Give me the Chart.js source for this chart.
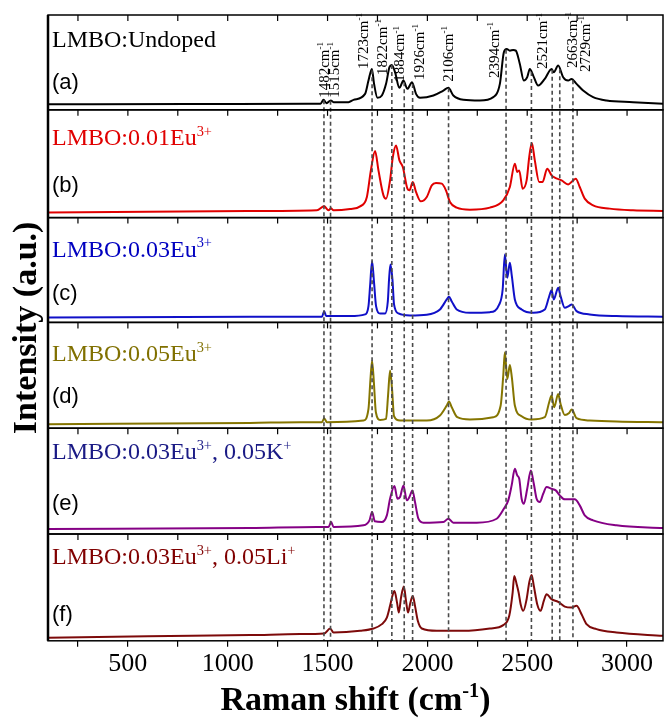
<!DOCTYPE html>
<html>
<head>
<meta charset="utf-8">
<script src="https://cdn.jsdelivr.net/npm/chart.js@4.4.0/dist/chart.umd.min.js"></script>
<style>
  html, body { margin: 0; padding: 0; background: #fff; }
</style>
</head>
<body>
<canvas id="raman" width="665" height="721"></canvas>
<script>
// Raman spectra, one stacked panel per sample (shift in cm-1, intensity in a.u.)
const shiftA = [100, 800, 1400, 1465, 1480, 1495, 1516, 1530, 1605, 1630, 1688, 1705, 1722, 1733, 1750, 1772, 1793, 1810, 1822, 1838, 1860, 1880, 1900, 1923, 1943, 1963, 2030, 2080, 2105, 2130, 2180, 2263, 2330, 2363, 2383, 2397, 2413, 2430, 2443, 2463, 2483, 2500, 2513, 2530, 2555, 2588, 2622, 2633, 2655, 2680, 2705, 2722, 2747, 2780, 2830, 2897, 3030, 3180];
const intA   = [5.5, 5.8, 6, 6.2, 10, 6.7, 9.3, 7.7, 7.7, 10, 16, 29.3, 41, 26, 12, 14.3, 26, 42.7, 45, 37.7, 22, 29.3, 21, 27.7, 16, 12, 14.3, 19.3, 22, 14.3, 10, 9.3, 12.7, 26, 57.7, 61, 59.3, 60, 59.3, 46, 29.3, 32.7, 41, 34.3, 24.3, 31, 41, 37.7, 44.3, 32.7, 29.3, 31, 26, 19.3, 12.7, 9.3, 7.7, 6];

const shiftB = [100, 1100, 1447, 1483, 1505, 1517, 1530, 1613, 1663, 1697, 1717, 1738, 1755, 1780, 1793, 1813, 1827, 1843, 1860, 1877, 1900, 1910, 1927, 1943, 1967, 1997, 2022, 2043, 2072, 2093, 2113, 2147, 2213, 2313, 2380, 2413, 2438, 2450, 2460, 2477, 2497, 2510, 2523, 2538, 2560, 2577, 2600, 2622, 2638, 2672, 2705, 2727, 2743, 2763, 2788, 2830, 2913, 3030, 3180];
const intB   = [5, 6.5, 7.3, 11.3, 7.3, 9.3, 7.3, 8.7, 11.3, 20.7, 47.3, 66.7, 47.3, 22.3, 19, 37.3, 60.7, 72.3, 57.3, 50.7, 29, 27.3, 35.7, 25.7, 16.3, 20.7, 32.3, 34.7, 34, 27.3, 15.7, 10, 8, 10, 17.3, 30.7, 54, 45.7, 47.3, 29, 37.3, 60.7, 74.7, 57.3, 35.7, 35.7, 49, 42.3, 40, 37.3, 33.3, 36.7, 39, 30.7, 19, 12.3, 9, 7.3, 6.7];

const shiftC = [100, 1113, 1388, 1472, 1483, 1493, 1613, 1688, 1705, 1713, 1723, 1733, 1743, 1763, 1788, 1802, 1808, 1815, 1825, 1833, 1855, 1913, 1997, 2063, 2097, 2108, 2122, 2147, 2213, 2313, 2360, 2377, 2388, 2400, 2413, 2423, 2438, 2472, 2530, 2588, 2608, 2622, 2633, 2655, 2667, 2688, 2708, 2723, 2747, 2813, 2947, 3180];
const intC   = [5, 5.7, 5.7, 5.7, 11.3, 6.3, 6.3, 8, 16.3, 36.3, 61.3, 39.7, 16.3, 9, 9, 21.3, 43, 58, 43, 18, 9, 7, 7.7, 13, 23, 25.7, 21, 13, 9.7, 10.3, 18, 33, 68, 44.7, 59.7, 46.3, 23, 13, 9.7, 13, 24.7, 32.3, 23, 34.7, 26.3, 14.7, 16.3, 18, 11.3, 8, 6.3, 5.7];

const shiftD = [100, 1113, 1363, 1472, 1483, 1497, 1680, 1705, 1715, 1723, 1732, 1742, 1763, 1793, 1803, 1813, 1823, 1833, 1863, 1997, 2063, 2097, 2108, 2122, 2150, 2213, 2330, 2367, 2380, 2388, 2400, 2413, 2423, 2438, 2472, 2522, 2588, 2610, 2622, 2635, 2655, 2667, 2688, 2710, 2723, 2747, 2813, 2947, 3180];
const intD   = [4, 5.3, 6, 6, 10, 6, 7.7, 19.3, 49.3, 67.7, 46, 16, 8.3, 9.3, 32.7, 57.7, 39.3, 12, 7.7, 7.7, 12.7, 22.7, 26.7, 21, 11, 8.7, 11, 22.7, 52.7, 76, 49.3, 63.3, 51, 22.7, 12, 8.7, 11, 26, 32.7, 21, 34.3, 24.3, 13.3, 15.3, 18.7, 10, 7.7, 6.7, 6];

const shiftE = [100, 1113, 1447, 1505, 1518, 1530, 1680, 1710, 1723, 1737, 1772, 1797, 1813, 1835, 1850, 1863, 1880, 1897, 1910, 1925, 1938, 1955, 1980, 2080, 2105, 2130, 2247, 2347, 2383, 2405, 2422, 2438, 2450, 2460, 2472, 2483, 2500, 2518, 2533, 2547, 2563, 2580, 2597, 2622, 2643, 2663, 2688, 2738, 2763, 2788, 2830, 2947, 3180];
const intE   = [5, 6, 7, 7, 12, 7, 8.7, 13.7, 22, 12.7, 12, 18.7, 35.3, 48, 35.3, 37, 48.7, 33.7, 37, 43.7, 32, 15.3, 11.3, 12, 15.3, 11.3, 11.3, 15.3, 25.3, 33.7, 48.7, 65.3, 58.7, 55.3, 35.3, 30.3, 45.3, 63.7, 50.3, 35.3, 32, 40.3, 47, 45.3, 43.7, 38.7, 34.7, 34.7, 28.7, 18.7, 13.7, 8.7, 6];

const shiftF = [100, 600, 1113, 1363, 1483, 1513, 1530, 1663, 1730, 1772, 1797, 1813, 1827, 1835, 1848, 1857, 1868, 1882, 1893, 1903, 1915, 1927, 1938, 1952, 1972, 2047, 2180, 2313, 2380, 2410, 2427, 2435, 2447, 2457, 2467, 2480, 2497, 2510, 2522, 2533, 2550, 2567, 2583, 2597, 2622, 2655, 2688, 2722, 2747, 2772, 2797, 2847, 2947, 3180];
const intF   = [3, 4.5, 5.7, 6.7, 7.3, 12.3, 8.3, 10, 12.3, 16.7, 23.3, 35, 46.7, 50, 38.3, 28.3, 43.3, 54.3, 40, 28.3, 38.3, 45, 35, 20, 12.3, 10, 10, 12.3, 15.7, 25, 48.3, 65, 56.7, 48.3, 36.7, 30, 41.7, 58.3, 66, 55, 36.7, 30, 40, 46.7, 41.7, 39, 34.3, 33.3, 35, 26.7, 16.7, 11.7, 8.3, 5];

// assigned bands, marked through all panels
const bandShifts = [1482, 1515, 1723, 1822, 1884, 1926, 2106, 2394, 2521, 2625, 2663, 2729];
const bandLabels = ['1482', '1515', '1723', '1822', '1884', '1926', '2106', '2394', '2521', null, '2663', '2729'];

const tickValues = [250, 500, 750, 1000, 1250, 1500, 1750, 2000, 2250, 2500, 2750, 3000];

const sampleNames = [
  [['LMBO:Undoped']],
  [['LMBO:0.01Eu'], ['3+', true]],
  [['LMBO:0.03Eu'], ['3+', true]],
  [['LMBO:0.05Eu'], ['3+', true]],
  [['LMBO:0.03Eu'], ['3+', true], [', 0.05K'], ['+', true]],
  [['LMBO:0.03Eu'], ['3+', true], [', 0.05Li'], ['+', true]],
];
const panelTags = ['(a)', '(b)', '(c)', '(d)', '(e)', '(f)'];

// styling / layout
const serif = "'Liberation Serif', 'Times New Roman', serif";
const sans = "'Liberation Sans', Arial, sans-serif";
const lineColors = ['#000000', '#e00000', '#1010c8', '#857500', '#850085', '#7d0a0a'];
const nameColors = ['#000000', '#e00000', '#0000c0', '#807000', '#1a1a85', '#800000'];
const panelSpan = [95, 108, 105, 106, 106, 107];
const nameBase = [32, 35, 39, 39, 31, 30];
const tagBase = [74, 82, 82, 81, 82, 87];
// band label placement: horizontal nudge (px) and start height in panel (a) units
const bandDx = [0, 3, -9, -10, -5, 6, -1, -12, 11, 0, 12, 12];
const bandLift = [12, 12, 41, 35, 28, 30, 28, 32, 41, 0, 42, 38];

const axisIds = ['ya', 'yb', 'yc', 'yd', 'ye', 'yf'];
const spectra = [[shiftA, intA], [shiftB, intB], [shiftC, intC], [shiftD, intD], [shiftE, intE], [shiftF, intF]];

const datasets = spectra.map(([xs, ys], i) => ({
  label: panelTags[i],
  data: xs.map((v, k) => ({ x: v, y: ys[k] })),
  xAxisID: 'x',
  yAxisID: axisIds[i],
  borderColor: lineColors[i],
  borderWidth: 2,
  pointRadius: 0,
  cubicInterpolationMode: 'monotone',
  fill: false,
}));

const scales = {
  x: {
    type: 'linear',
    position: 'bottom',
    min: 100,
    max: 3180,
    afterBuildTicks: (s) => { s.ticks = tickValues.map(v => ({ value: v })); },
    ticks: {
      autoSkip: false,
      maxRotation: 0,
      padding: 2,
      color: '#000',
      font: { family: serif, size: 26 },
      callback: (v) => (v % 500 === 0 ? String(v) : ''),
    },
    grid: { display: true, drawOnChartArea: false, drawTicks: true, tickLength: 6, color: '#000', lineWidth: 1.2 },
    border: { display: false },
  },
};
axisIds.forEach((id, i) => {
  scales[id] = {
    type: 'linear',
    position: 'left',
    stack: 'panels',
    stackWeight: panelSpan[i],
    weight: axisIds.length - i,
    min: 0,
    max: panelSpan[i],
    ticks: { display: false },
    grid: { display: false, drawTicks: false },
    border: { display: false },
  };
});

function drawRich(ctx, parts, x, y, size, bold) {
  let cx = x;
  parts.forEach(([txt, sup]) => {
    const fs = sup ? size * 0.6 : size;
    ctx.font = (bold ? 'bold ' : '') + fs + 'px ' + serif;
    ctx.fillText(txt, cx, sup ? y - size * 0.38 : y);
    cx += ctx.measureText(txt).width;
  });
  return cx - x;
}

function richWidth(ctx, parts, size, bold) {
  let w = 0;
  parts.forEach(([txt, sup]) => {
    ctx.font = (bold ? 'bold ' : '') + (sup ? size * 0.6 : size) + 'px ' + serif;
    w += ctx.measureText(txt).width;
  });
  return w;
}

// height of the top spectrum under a band, so its guide starts at the curve
function curveAt(xs, ys, v) {
  for (let k = 1; k < xs.length; k++) {
    if (v <= xs[k]) {
      const t = (v - xs[k - 1]) / (xs[k] - xs[k - 1]);
      return ys[k - 1] + t * (ys[k] - ys[k - 1]);
    }
  }
  return ys[ys.length - 1];
}

const panelDecor = {
  id: 'panelDecor',
  afterDatasetsDraw(chart) {
    const { ctx, chartArea, scales: sc } = chart;
    const ya = sc.ya;
    ctx.save();
    ctx.strokeStyle = '#4a4a4a';
    ctx.lineWidth = 1.6;
    ctx.setLineDash([4, 3]);
    bandShifts.forEach((v) => {
      const px = sc.x.getPixelForValue(v);
      const top = ya.getPixelForValue(curveAt(shiftA, intA, v));
      ctx.beginPath();
      ctx.moveTo(px, top);
      ctx.lineTo(px, chartArea.bottom);
      ctx.stroke();
    });
    ctx.restore();
  },
  afterDraw(chart) {
    const { ctx, chartArea, scales: sc } = chart;
    ctx.save();
    // panel frames and inner tick marks
    ctx.strokeStyle = '#000';
    ctx.lineWidth = 1.5;
    axisIds.forEach((id) => {
      const s = sc[id];
      ctx.strokeRect(chartArea.left, s.top, chartArea.right - chartArea.left, s.bottom - s.top);
      ctx.lineWidth = 1.2;
      tickValues.forEach((v) => {
        const px = sc.x.getPixelForValue(v);
        ctx.beginPath();
        ctx.moveTo(px, s.top);
        ctx.lineTo(px, s.top + 6);
        ctx.stroke();
      });
      ctx.lineWidth = 1.5;
    });
    ctx.lineWidth = 2.5;
    ctx.beginPath();
    ctx.moveTo(chartArea.left, chartArea.top);
    ctx.lineTo(chartArea.left, chartArea.bottom);
    ctx.stroke();

    // sample names and panel tags
    ctx.textAlign = 'left';
    ctx.textBaseline = 'alphabetic';
    axisIds.forEach((id, i) => {
      const s = sc[id];
      ctx.fillStyle = nameColors[i];
      drawRich(ctx, sampleNames[i], chartArea.left + 4, s.top + nameBase[i], 24, false);
      ctx.fillStyle = '#000';
      ctx.font = '22px ' + sans;
      ctx.fillText(panelTags[i], chartArea.left + 4, s.top + tagBase[i]);
    });

    // band positions above the top spectrum
    ctx.fillStyle = '#000';
    bandShifts.forEach((v, i) => {
      if (!bandLabels[i]) return;
      const px = sc.x.getPixelForValue(v) + bandDx[i];
      const py = sc.ya.getPixelForValue(bandLift[i]);
      ctx.save();
      ctx.translate(px + 5, py);
      ctx.rotate(-Math.PI / 2);
      drawRich(ctx, [[bandLabels[i] + 'cm'], ['-1', true]], 0, 0, 15, false);
      ctx.restore();
    });

    // axis titles
    const xParts = [['Raman shift (cm'], ['-1', true], [')']];
    const w = richWidth(ctx, xParts, 34, true);
    drawRich(ctx, xParts, (chartArea.left + chartArea.right) / 2 - w / 2, 710, 34, true);

    ctx.save();
    ctx.translate(36, (chartArea.top + chartArea.bottom) / 2);
    ctx.rotate(-Math.PI / 2);
    ctx.textAlign = 'center';
    ctx.font = 'bold 34px ' + serif;
    ctx.fillText('Intensity (a.u.)', 0, 0);
    ctx.restore();
    ctx.restore();
  },
};

new Chart(document.getElementById('raman'), {
  type: 'line',
  data: { datasets },
  options: {
    responsive: false,
    animation: false,
    parsing: true,
    layout: { padding: { left: 48, right: 2, top: 15, bottom: 39 } },
    plugins: { legend: { display: false }, tooltip: { enabled: false } },
    scales,
  },
  plugins: [panelDecor],
});
</script>
</body>
</html>
